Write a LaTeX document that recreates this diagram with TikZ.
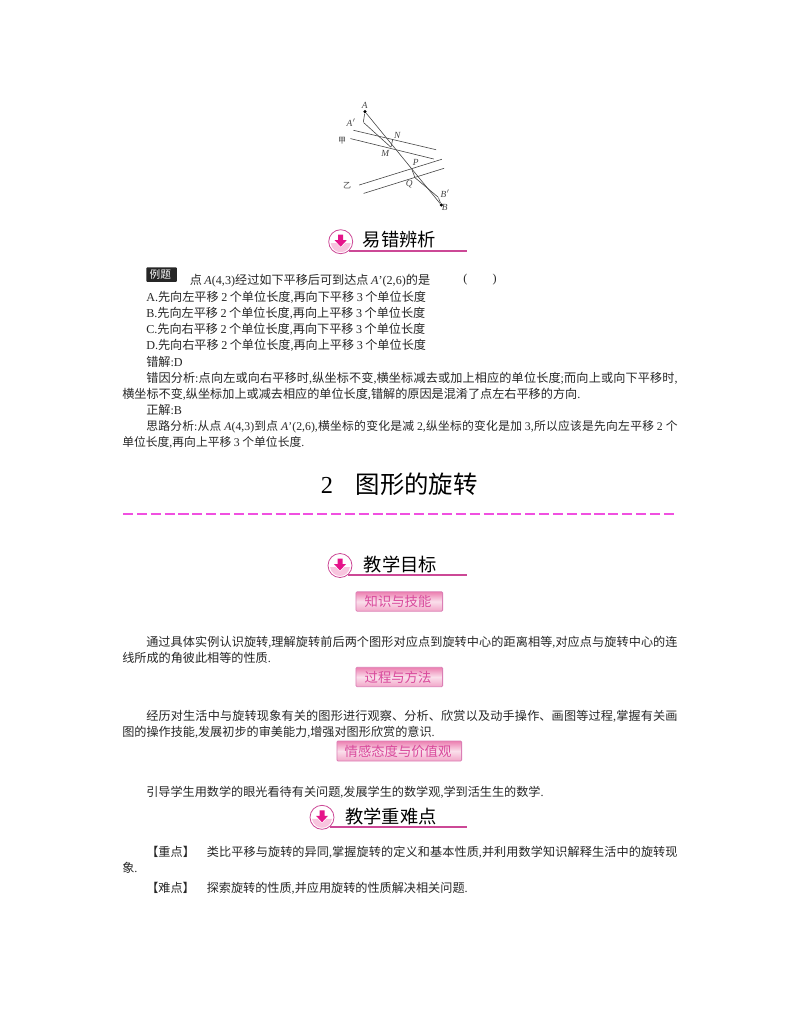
\documentclass[tikz,border=0pt]{standalone}
\usepackage{fontspec}
\setmainfont{Liberation Serif}
\newfontfamily\cjkfont{Noto Sans CJK SC}
\usetikzlibrary{positioning}

% chinese runs switch font by themselves
\XeTeXinterchartokenstate=1
\newXeTeXintercharclass\cjkclass
\count255="3000
\loop
  \XeTeXcharclass\count255=\cjkclass
  \ifnum\count255<"9FFF \advance\count255 by 1 \repeat
\XeTeXinterchartoks 0 \cjkclass={\cjkfont\hskip 0pt plus .6pt\relax}
\XeTeXinterchartoks 4095 \cjkclass={\cjkfont}
\XeTeXinterchartoks \cjkclass 0={\rmfamily}
\XeTeXinterchartoks \cjkclass 4095={\rmfamily}
\XeTeXlinebreaklocale "zh"
\XeTeXlinebreakskip=0pt plus .6pt minus .12pt

\definecolor{headpink}{HTML}{CC4896}
\definecolor{arrowpink}{HTML}{E5148A}
\definecolor{traypink}{HTML}{F8C4DE}
\definecolor{dashpink}{HTML}{F050E0}
\definecolor{badgetop}{HTML}{EC7FB0}
\definecolor{badgetxt}{HTML}{D94A9C}
\definecolor{figgray}{HTML}{444444}

\begin{document}
\begin{tikzpicture}
[x=.75pt,y=-.75pt,
  body text/.style={anchor=north west,inner sep=0pt,text=black!85,font=\fontsize{9.1pt}{12.15pt}\selectfont},
  para text/.style={body text,text width=416.5pt,align=justify},
  icon node/.style={circle,draw=headpink,fill=white,line width=.6pt,minimum size=18pt,inner sep=0pt},
  head node/.style={anchor=west,inner sep=0pt,font=\fontsize{13.7pt}{15pt}\selectfont},
  badge node/.style={draw=headpink!70,line width=.6pt,rounded corners=.8pt,inner sep=0pt,
    top color=badgetop,bottom color=badgetop!70,middle color=white!75!badgetop,
    text=badgetxt,font=\fontsize{10pt}{11pt}\selectfont},
  point node/.style={circle,fill=black,inner sep=0pt,minimum size=2.6pt},
  corner node/.style={inner sep=0pt,minimum size=0pt},
  fig label/.style={inner sep=0pt,text=figgray,font=\fontsize{7pt}{8pt}\itshape\selectfont},
  fig line/.style={draw=figgray,line width=.45pt}]

  \spaceskip=1.9pt plus 1pt minus .2pt\relax
  \useasboundingbox (0,0) rectangle (800,1028);

  % figure
  \node [point node] (A) at 		(365,111.7) 	{};
  \node [point node] (B) at 		(441.3,205) 	{};
  \node [corner node] (Aprime) at 	(363.3,122.3) 	{};
  \node [corner node] (Bprime) at 	(438.3,197.3) 	{};
  \node [corner node] (N) at 		(392.7,139.3) 	{};
  \node [corner node] (M) at 		(391,147.3) 	{};
  \node [corner node] (P) at 		(411.7,169) 	{};
  \node [corner node] (Q) at 		(415,177.7) 	{};
  \node [corner node] (upA) at 		(352.3,130) 	{};
  \node [corner node] (upB) at 		(437.3,150) 	{};
  \node [corner node] (jiaA) at 	(349.3,138.3) 	{};
  \node [corner node] (jiaB) at 	(435,159.3) 	{};
  \node [corner node] (yiA) at 		(358.3,185.3) 	{};
  \node [corner node] (yiB) at 		(442.7,159) 	{};
  \node [corner node] (lowA) at 	(362.7,193.7) 	{};
  \node [corner node] (lowB) at 	(445,168) 	{};

  \foreach \from/\to in {A/B,A/Aprime,Aprime/M,N/M,P/Q,Q/Bprime,Bprime/B,upA/upB,jiaA/jiaB,yiA/yiB,lowA/lowB}
    \draw [fig line] (\from) -- (\to);

  \node [fig label] (labA) at 		(366,105) 	{A};
  \node [fig label] (labAp) at 		(352.5,122.5) 	{A$'$};
  \node [fig label] (labJia) at 	(343.5,140.5) 	{\fontsize{6pt}{7pt}\selectfont 甲};
  \node [fig label] (labN) at 		(398.5,135.5) 	{N};
  \node [fig label] (labM) at 		(386.5,153.5) 	{M};
  \node [fig label] (labP) at 		(417,162.5) 	{P};
  \node [fig label] (labQ) at 		(410.5,184) 	{Q};
  \node [fig label] (labYi) at 		(348.5,186) 	{\fontsize{6pt}{7pt}\selectfont 乙};
  \node [fig label] (labBp) at 		(446.5,194) 	{B$'$};
  \node [fig label] (labB) at 		(446,207.5) 	{B};

  % section heads
  \foreach \id/\cx/\cy/\ty/\ry/\tx/\txt in {a/340.7/241.7/240/251/362.5/易错辨析,b/340/565.5/564/575/363.5/教学目标,c/322/817.3/816/826/345/教学重难点}{
    \node [icon node] (icon\id) at (\cx,\cy) {};
    \fill [traypink,shift={(\cx,\cy)}] (-10,1.5) -- (-4.5,1.5) -- (0,6) -- (4.5,1.5) -- (10,1.5)
      .. controls (9,7) and (5,10.5) .. (0,10.5) .. controls (-5,10.5) and (-9,7) .. (-10,1.5) -- cycle;
    \fill [arrowpink,shift={(\cx,\cy)}] (-2.5,-7) -- (2.5,-7) -- (2.5,-1.5) -- (6,-1.5) -- (0,5) -- (-6,-1.5) -- (-2.5,-1.5) -- cycle;
    \node [head node] (head\id) at (\tx,\ty) {\txt};
    \coordinate (rule\id) at (466.7,\ry);
    \draw [headpink,line width=1.1pt] (icon\id.-50) -- (icon\id.-50 -| rule\id);
  }

  % example block
  \node [anchor=north west,fill=black!85,rounded corners=.8pt,minimum width=23pt,minimum height=11pt,inner sep=0pt,
    text=white,font=\fontsize{8pt}{9pt}\selectfont] (liti) at (146,267) {例题};
  \node [body text] (question) at (189.5,274) {点 \textit{A}(4,3)经过如下平移后可到达点 \textit{A}'(2,6)的是};
  \node [body text] (paren) at (463,274) {(\hspace{19pt})};
  \node [body text] (optA) at (146,291) {A.先向左平移 2 个单位长度,再向下平移 3 个单位长度};
  \node [body text] (optB) at (146,307) {B.先向左平移 2 个单位长度,再向上平移 3 个单位长度};
  \node [body text] (optC) at (146,323) {C.先向右平移 2 个单位长度,再向下平移 3 个单位长度};
  \node [body text] (optD) at (146,339) {D.先向右平移 2 个单位长度,再向上平移 3 个单位长度};
  \node [body text] (wrong) at (146,356) {错解:D};
  \node [para text] (cause) at (122,372) {\hspace*{18pt}错因分析:点向左或向右平移时,纵坐标不变,横坐标减去或加上相应的单位长度;而向上或向下平移时,横坐标不变,纵坐标加上或减去相应的单位长度,错解的原因是混淆了点左右平移的方向.};
  \node [body text] (right) at (146,404) {正解:B};
  \node [para text,font=\fontsize{8.85pt}{12.15pt}\selectfont] (idea) at (122,420) {\hspace*{18pt}思路分析:从点 \textit{A}(4,3)到点 \textit{A}'(2,6),横坐标的变化是减 2,纵坐标的变化是加 3,所以应该是先向左平移 2 个单位长度,再向上平移 3 个单位长度.};

  % chapter title
  \node [inner sep=0pt,font=\fontsize{18.3pt}{20pt}\selectfont] (title) at (400.5,484) {2\hspace{17pt}图形的旋转};
  \coordinate (dashL) at (123,514);
  \coordinate (dashR) at (677,514);
  \draw [dashpink,line width=.85pt,dash pattern=on 7.6pt off 2.8pt] (dashL) -- (dashR);

  % goals
  \node [badge node,minimum width=65pt,minimum height=14.5pt] (skill) at (399.3,601.5) {知识与技能};
  \node [para text] (skillTxt) at (122,636) {\hspace*{18pt}通过具体实例认识旋转,理解旋转前后两个图形对应点到旋转中心的距离相等,对应点与旋转中心的连线所成的角彼此相等的性质.};
  \node [badge node,minimum width=65pt,minimum height=14.5pt] (method) at (399.3,677) {过程与方法};
  \node [para text] (methodTxt) at (122,710) {\hspace*{18pt}经历对生活中与旋转现象有关的图形进行观察、分析、欣赏以及动手操作、画图等过程,掌握有关画图的操作技能,发展初步的审美能力,增强对图形欣赏的意识.};
  \node [badge node,minimum width=93.5pt,minimum height=15pt] (value) at (399.3,751) {情感态度与价值观};
  \node [para text] (valueTxt) at (122,786) {\hspace*{18pt}引导学生用数学的眼光看待有关问题,发展学生的数学观,学到活生生的数学.};

  % key points
  \node [para text] (key) at (122,846) {\hspace*{18pt}【重点】\hspace{9pt}类比平移与旋转的异同,掌握旋转的定义和基本性质,并利用数学知识解释生活中的旋转现象.};
  \node [para text] (hard) at (122,882) {\hspace*{18pt}【难点】\hspace{9pt}探索旋转的性质,并应用旋转的性质解决相关问题.};

\end{tikzpicture}
\end{document}
